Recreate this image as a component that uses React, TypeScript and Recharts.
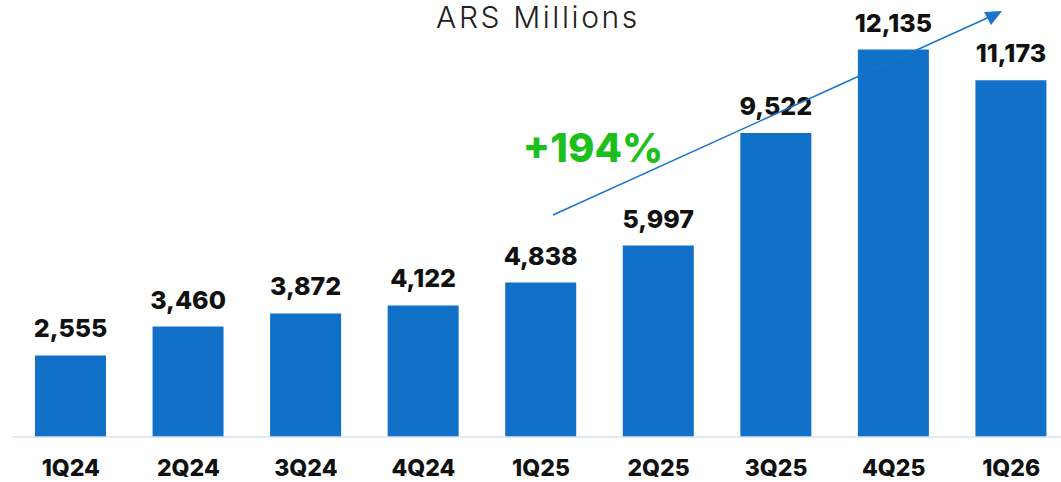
import { BarChart, Bar, XAxis, YAxis, LabelList } from "recharts";

const quarters = ["1Q24", "2Q24", "3Q24", "4Q24", "1Q25", "2Q25", "3Q25", "4Q25", "1Q26"];
const revenue = [2555, 3460, 3872, 4122, 4838, 5997, 9522, 12135, 11173];

const chartData = quarters.map((q, i) => ({ quarter: q, value: revenue[i] }));

const FONT = "Inter, 'Open Sans', sans-serif";
const BLUE = "#1170c8";

function QuarterTick({ x, y, payload }: any) {
  return (
    <text x={x} y={y + 31} textAnchor="middle" fontFamily={FONT} fontWeight={800} fontSize={23} fill="#111">
      {payload.value}
    </text>
  );
}

export default function App() {
  return (
    <div style={{ position: "absolute", left: 0, top: 0, width: 1061, height: 482, overflow: "hidden", background: "#fff" }}>
      <BarChart width={1072} height={482} data={chartData} margin={{ top: 22, right: 2, left: 12, bottom: 0 }}>
        <XAxis
          dataKey="quarter"
          height={45}
          tickLine={false}
          axisLine={{ stroke: "#d6e3f0", strokeWidth: 1.5 }}
          tick={<QuarterTick />}
          interval={0}
        />
        <YAxis hide domain={[0, 13000]} />
        <Bar dataKey="value" fill={BLUE} barSize={71} isAnimationActive={false}>
          <LabelList
            dataKey="value"
            position="top"
            offset={18}
            formatter={(v: any) => Number(v).toLocaleString("en-US")}
            style={{ fontFamily: FONT, fontWeight: 800, fontSize: 25, fill: "#111" }}
          />
        </Bar>
      </BarChart>

      {/* title + growth annotation */}
      <svg width={1061} height={482} style={{ position: "absolute", left: 0, top: 0, pointerEvents: "none" }}>
        <text x={538} y={28} textAnchor="middle" fontFamily={FONT} fontWeight={300} fontSize={30} letterSpacing={2.6} fill="#222">
          ARS Millions
        </text>
        <text x={593} y={162} textAnchor="middle" fontFamily={FONT} fontWeight={800} fontSize={40} fill="#1dbf1d">
          +194%
        </text>
        <line x1={553} y1={215} x2={996} y2={14} stroke="#1a73cc" strokeWidth={1.5} />
        <path d="M1002,11 L984,12 L991,25 z" fill="#1a73cc" />
      </svg>
    </div>
  );
}
